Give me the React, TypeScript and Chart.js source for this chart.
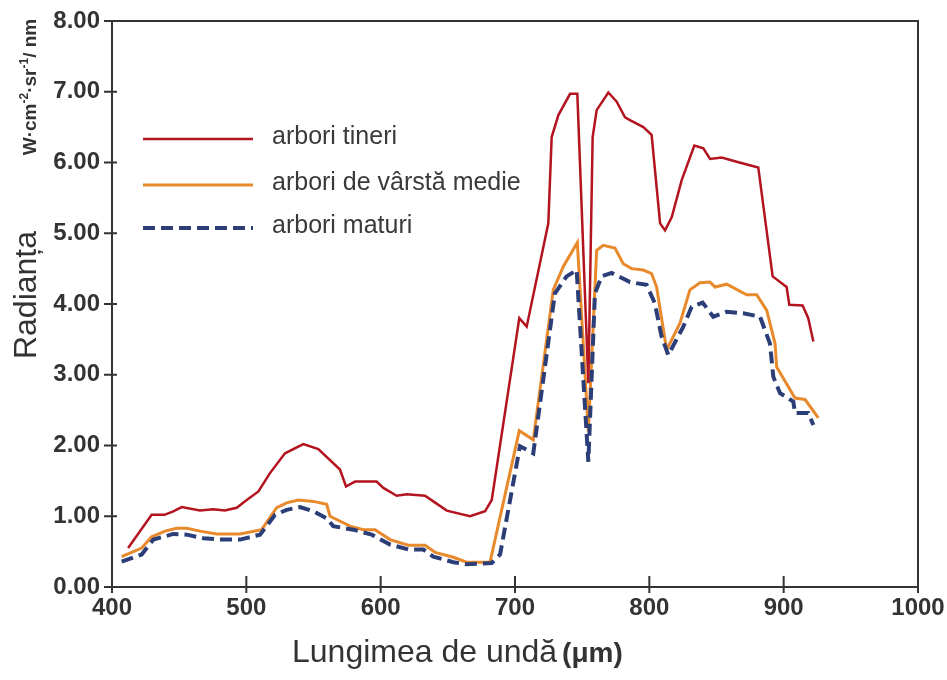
import { useEffect, useRef } from 'react';
import { Chart, registerables } from 'chart.js';

Chart.register(...registerables);

// ---- data (wavelength, radiance) ----
const xTicks = [400, 500, 600, 700, 800, 900, 1000];
const yTicks = [0, 1, 2, 3, 4, 5, 6, 7, 8];

const seriesNames = ['arbori tineri', 'arbori de vârstă medie', 'arbori maturi'];

const youngWl = [412, 429.5, 439, 445.6, 451.9, 465.5, 475.4, 484, 492.8, 500.3, 509, 517.6, 528.8, 542.4, 553.6, 569.7, 574.2, 580.9, 597, 602, 611.9, 619.4, 633, 639.2, 649.2, 666.5, 677.7, 682.7, 703.2, 708.7, 724.8, 727.3, 732.3, 741, 746.4, 754.6, 757.8, 760.8, 769.5, 775.7, 781.9, 785.6, 795.5, 801.7, 808, 811.7, 816.7, 824.1, 833.5, 840.2, 845.2, 853.9, 865, 881.1, 891.8, 902.2, 904.2, 914.1, 918.3, 922.1];
const youngVal = [0.55, 1.02, 1.02, 1.07, 1.13, 1.08, 1.10, 1.08, 1.12, 1.23, 1.35, 1.61, 1.89, 2.02, 1.95, 1.66, 1.42, 1.49, 1.49, 1.40, 1.29, 1.31, 1.29, 1.21, 1.08, 1.00, 1.07, 1.23, 3.80, 3.68, 5.14, 6.36, 6.67, 6.97, 6.97, 2.88, 6.36, 6.74, 6.99, 6.86, 6.64, 6.60, 6.50, 6.39, 5.14, 5.04, 5.23, 5.75, 6.24, 6.20, 6.05, 6.07, 6.01, 5.93, 4.39, 4.24, 3.99, 3.98, 3.80, 3.47];

const middleWl = [407.2, 422.1, 429.5, 439.5, 448.1, 455.6, 465.5, 478, 495.3, 511.4, 522.6, 530, 538.7, 549.9, 559.8, 562.3, 577.2, 587.1, 595.8, 607, 620.6, 633, 640.5, 654.1, 664, 681.4, 703.2, 713.6, 728.5, 736, 746.4, 754.6, 760.8, 765.7, 774.4, 780.6, 786.8, 795.5, 801.7, 805.4, 812.9, 822.8, 830.2, 837.7, 845.2, 848.9, 857.6, 872.5, 879.9, 887.4, 893.6, 894.8, 908.4, 915.9, 925.8];
const middleVal = [0.43, 0.55, 0.71, 0.79, 0.83, 0.83, 0.79, 0.75, 0.75, 0.81, 1.12, 1.19, 1.23, 1.21, 1.17, 1.00, 0.86, 0.81, 0.81, 0.67, 0.59, 0.59, 0.49, 0.42, 0.35, 0.35, 2.21, 2.08, 4.20, 4.53, 4.87, 2.2, 4.76, 4.83, 4.79, 4.57, 4.50, 4.48, 4.43, 4.24, 3.35, 3.73, 4.20, 4.30, 4.31, 4.24, 4.28, 4.13, 4.13, 3.91, 3.44, 3.11, 2.67, 2.65, 2.39];

const matureWl = [407.2, 422.1, 430.8, 445.6, 455.6, 468, 480.4, 495.3, 510.2, 521.4, 530, 540, 549.9, 559.8, 564.7, 579.6, 593.3, 607, 620.6, 631.8, 639.2, 654.1, 664, 682.7, 688.9, 703.7, 713.6, 729.7, 738.4, 745.9, 754.6, 759.5, 764.5, 771.9, 785.6, 798, 804.1, 809.1, 814.1, 825.3, 831.5, 839.7, 847.6, 857.6, 870, 882.4, 889.8, 892.3, 897.3, 907.2, 908.4, 918.3, 922.1];
const matureVal = [0.36, 0.46, 0.67, 0.75, 0.74, 0.69, 0.67, 0.67, 0.74, 1.02, 1.09, 1.13, 1.07, 0.97, 0.86, 0.81, 0.74, 0.60, 0.53, 0.53, 0.43, 0.35, 0.32, 0.34, 0.46, 1.99, 1.89, 4.15, 4.39, 4.48, 1.77, 4.15, 4.39, 4.44, 4.31, 4.27, 4.01, 3.54, 3.28, 3.68, 3.96, 4.02, 3.82, 3.89, 3.87, 3.82, 3.44, 2.97, 2.74, 2.62, 2.46, 2.46, 2.29];

const yTitle = 'Radianța';
const unitMain = ['W·cm', '·sr', '/ nm'];
const unitSup = ['-2', '-1'];
const xTitle = 'Lungimea de undă';
const xTitleUnit = '(μm)';

const toPoints = (xs: number[], ys: number[]) => xs.map((x, i) => ({ x, y: ys[i] }));

const AXIS = '#333333';
const TEXT = '#333333';
const FONT = '"Liberation Sans", Arial, sans-serif';

const decorPlugin = {
  id: 'decor',
  afterDraw(chart: any) {
    const ctx = chart.ctx as CanvasRenderingContext2D;
    const { left, right, top, bottom } = chart.chartArea;
    const xs = chart.scales.x;
    const ys = chart.scales.y;
    ctx.save();
    // box top + right
    ctx.strokeStyle = AXIS;
    ctx.lineWidth = 2;
    ctx.setLineDash([]);
    ctx.beginPath();
    ctx.moveTo(left, top);
    ctx.lineTo(right, top);
    ctx.lineTo(right, bottom);
    ctx.stroke();
    // cross ticks
    ctx.lineWidth = 2;
    ctx.beginPath();
    xTicks.forEach((v) => {
      const px = xs.getPixelForValue(v);
      if (v === 1000) {
        ctx.moveTo(px, bottom);
        ctx.lineTo(px, bottom + 6);
      } else {
        ctx.moveTo(px, bottom - 11);
        ctx.lineTo(px, bottom + 6);
      }
    });
    yTicks.forEach((v) => {
      const py = ys.getPixelForValue(v);
      ctx.moveTo(left - 8, py);
      ctx.lineTo(left + 5, py);
    });
    ctx.stroke();

    // legend
    const legY = [139, 185, 228];
    chart.data.datasets.forEach((ds: any, i: number) => {
      ctx.strokeStyle = ds.borderColor;
      ctx.lineWidth = ds.borderWidth;
      ctx.setLineDash(ds.borderDash || []);
      ctx.beginPath();
      ctx.moveTo(143, legY[i]);
      ctx.lineTo(253, legY[i]);
      ctx.stroke();
      ctx.setLineDash([]);
      ctx.fillStyle = '#3a3a3a';
      ctx.font = `25px ${FONT}`;
      ctx.textAlign = 'left';
      ctx.textBaseline = 'middle';
      ctx.fillText(ds.label, 272, legY[i] - 2);
    });

    // x title
    ctx.fillStyle = TEXT;
    ctx.textBaseline = 'alphabetic';
    ctx.textAlign = 'left';
    ctx.font = `32px ${FONT}`;
    const x0 = 292;
    ctx.fillText(xTitle, x0, 662);
    const w1 = ctx.measureText(xTitle).width;
    ctx.font = `bold 28px ${FONT}`;
    ctx.fillText(xTitleUnit, x0 + w1 + 5, 662);

    // y title "Radianța"
    ctx.save();
    ctx.translate(36, 295);
    ctx.rotate(-Math.PI / 2);
    ctx.font = `32px ${FONT}`;
    ctx.textAlign = 'center';
    ctx.textBaseline = 'alphabetic';
    ctx.fillText(yTitle, 0, 0);
    ctx.restore();

    // unit label
    ctx.save();
    ctx.translate(36, 87);
    ctx.rotate(-Math.PI / 2);
    const mainFont = `bold 19px ${FONT}`;
    const supFont = `bold 12px ${FONT}`;
    const parts: { t: string; sup: boolean }[] = [
      { t: unitMain[0], sup: false },
      { t: unitSup[0], sup: true },
      { t: unitMain[1], sup: false },
      { t: unitSup[1], sup: true },
      { t: unitMain[2], sup: false },
    ];
    let total = 0;
    const widths = parts.map((p) => {
      ctx.font = p.sup ? supFont : mainFont;
      const w = ctx.measureText(p.t).width;
      total += w;
      return w;
    });
    let cx = -total / 2;
    ctx.textAlign = 'left';
    parts.forEach((p, i) => {
      ctx.font = p.sup ? supFont : mainFont;
      ctx.fillText(p.t, cx, p.sup ? -8 : 0);
      cx += widths[i];
    });
    ctx.restore();

    ctx.restore();
  },
};

const zeroPad = (scale: any) => {
  scale.paddingTop = 0;
  scale.paddingBottom = 0;
  scale.paddingLeft = 0;
  scale.paddingRight = 0;
};

export default function App() {
  const ref = useRef<HTMLCanvasElement | null>(null);

  useEffect(() => {
    if (!ref.current) return;
    const chart = new Chart(ref.current, {
      type: 'line',
      data: {
        datasets: [
          {
            label: seriesNames[0],
            data: toPoints(youngWl, youngVal),
            borderColor: '#b3141f',
            borderWidth: 2.5,
            pointRadius: 0,
            tension: 0,
            order: 1,
          },
          {
            label: seriesNames[1],
            data: toPoints(middleWl, middleVal),
            borderColor: '#e8892c',
            borderWidth: 3,
            pointRadius: 0,
            tension: 0,
            order: 2,
          },
          {
            label: seriesNames[2],
            data: toPoints(matureWl, matureVal),
            borderColor: '#2b3e78',
            borderWidth: 4,
            borderDash: [12, 6],
            pointRadius: 0,
            tension: 0,
            order: 0,
          },
        ],
      },
      options: {
        animation: false,
        responsive: true,
        maintainAspectRatio: false,
        layout: { padding: { left: 0, right: 29, top: 21, bottom: 0 } },
        plugins: {
          legend: { display: false },
          tooltip: { enabled: false },
          title: { display: false },
        },
        scales: {
          x: {
            type: 'linear',
            min: 400,
            max: 1000,
            afterBuildTicks: (scale: any) => {
              scale.ticks = xTicks.map((v) => ({ value: v }));
            },
            ticks: {
              color: TEXT,
              font: { family: FONT, size: 24, weight: 'bold' },
              padding: 7,
              maxRotation: 0,
              autoSkip: false,
              callback: (v: any) => String(v),
            },
            grid: { display: true, drawOnChartArea: false, drawTicks: false },
            border: { display: true, color: AXIS, width: 2 },
            afterFit: (scale: any) => {
              scale.height = 93;
              zeroPad(scale);
            },
          },
          y: {
            type: 'linear',
            min: 0,
            max: 8,
            afterBuildTicks: (scale: any) => {
              scale.ticks = yTicks.map((v) => ({ value: v }));
            },
            ticks: {
              color: TEXT,
              font: { family: FONT, size: 24, weight: 'bold' },
              padding: 12,
              callback: (v: any) => Number(v).toFixed(2),
            },
            grid: { display: true, drawOnChartArea: false, drawTicks: false },
            border: { display: true, color: AXIS, width: 2 },
            afterFit: (scale: any) => {
              scale.width = 112;
              zeroPad(scale);
            },
          },
        },
      },
      plugins: [decorPlugin],
    });
    return () => chart.destroy();
  }, []);

  return (
    <div style={{ position: 'absolute', left: 0, top: 0, width: 947, height: 680, background: '#fff' }}>
      <canvas ref={ref} />
    </div>
  );
}
